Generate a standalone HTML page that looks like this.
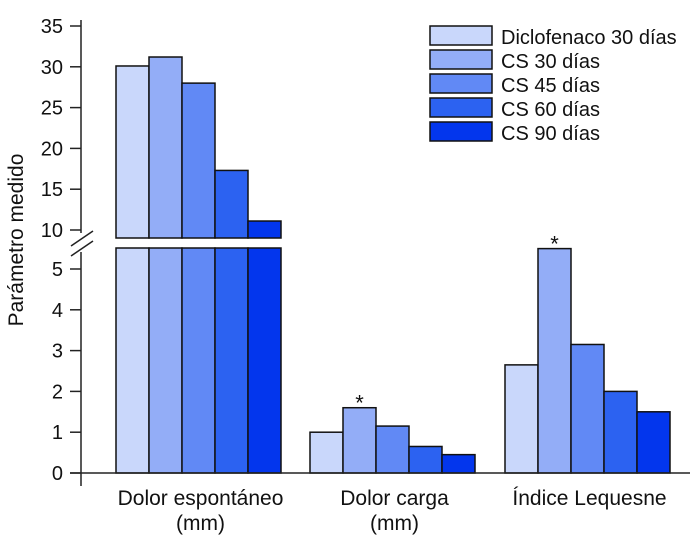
<!DOCTYPE html>
<html><head><meta charset="utf-8"><style>
html,body{margin:0;padding:0;background:#fff;}
svg{display:block;font-family:"Liberation Sans",sans-serif;}
</style></head><body>
<svg id="chart" width="700" height="541" viewBox="0 0 700 541"></svg>
<script>
const categories = ["Dolor espontáneo|(mm)", "Dolor carga|(mm)", "Índice Lequesne"];
const seriesNames = ["Diclofenaco 30 días", "CS 30 días", "CS 45 días", "CS 60 días", "CS 90 días"];
const diclofenaco30 = [30.1, 1.0, 2.65];
const cs30 = [31.2, 1.6, 5.5];
const cs45 = [28.0, 1.15, 3.15];
const cs60 = [17.3, 0.65, 2.0];
const cs90 = [11.1, 0.45, 1.5];
const lowerTicks = [0, 1, 2, 3, 4, 5];
const upperTicks = [10, 15, 20, 25, 30, 35];
const starred = [[1, 1], [2, 1]]; // [category, series]

const series = [diclofenaco30, cs30, cs45, cs60, cs90];
const colors = ["#c9d7fb", "#93adf7", "#6189f5", "#2c62f1", "#0336ed"];
const NS = "http://www.w3.org/2000/svg";
const svg = document.getElementById("chart");
function mk(tag, attrs, parent) {
  const e = document.createElementNS(NS, tag);
  for (const k in attrs) e.setAttribute(k, attrs[k]);
  (parent || svg).appendChild(e);
  return e;
}
const lowY = v => 473 - v * 40.8;
const upY = v => 230 - (v - 10) * 8.16;
const lowTop = 248, upBottom = 238;
const groupX = [116, 310, 505], barW = 33;

series.forEach((vals, s) => {
  vals.forEach((v, c) => {
    const x = groupX[c] + s * barW;
    if (v > 10) {
      const r1 = mk("rect", {x: x, y: lowTop, width: barW, height: 473 - lowTop, fill: colors[s], stroke: "#111", "stroke-width": 1.5});
      
      
      const r2 = mk("rect", {x: x, y: upY(v), width: barW, height: upBottom - upY(v), fill: colors[s], stroke: "#111", "stroke-width": 1.5});
      
      
    } else {
      const r = mk("rect", {x: x, y: lowY(v), width: barW, height: 473 - lowY(v), fill: colors[s], stroke: "#111", "stroke-width": 1.5});
      
      
    }
  });
});
starred.forEach(([c, s]) => {
  const v = series[s][c];
  const t = mk("text", {x: groupX[c] + s * barW + barW / 2, y: lowY(v) + 3, "font-size": 22, "text-anchor": "middle", fill: "#111"});
  t.textContent = "*";
  
  
});

const ax = mk("g", {stroke: "#222", "stroke-width": 1.5});


mk("line", {x1: 81, y1: 20, x2: 81, y2: 233}, ax);
mk("line", {x1: 81, y1: 252, x2: 81, y2: 486}, ax);
mk("line", {x1: 70, y1: 473, x2: 690, y2: 473}, ax);
mk("line", {x1: 71, y1: 246, x2: 93, y2: 231}, ax);
mk("line", {x1: 71, y1: 256, x2: 93, y2: 241}, ax);
lowerTicks.forEach(v => {
  mk("line", {x1: 70, y1: lowY(v), x2: 81, y2: lowY(v)}, ax);
  const t = mk("text", {x: 63, y: lowY(v) + 7, "font-size": 20, "text-anchor": "end", fill: "#111", stroke: "none"});
  t.textContent = v;
  
  
});
upperTicks.forEach(v => {
  mk("line", {x1: 70, y1: upY(v), x2: 81, y2: upY(v)}, ax);
  const t = mk("text", {x: 63, y: upY(v) + 7, "font-size": 20, "text-anchor": "end", fill: "#111", stroke: "none"});
  t.textContent = v;
  
  
});
const yt = mk("text", {x: 23, y: 240, "font-size": 21, "text-anchor": "middle", fill: "#111", transform: "rotate(-90 23 240)"});
yt.textContent = "Parámetro medido";



categories.forEach((c, i) => {
  const lines = c.split("|");
  lines.forEach((ln, j) => {
    const t = mk("text", {x: groupX[i] + barW * 2.5 + 2, y: 505 + j * 25, "font-size": 21, "text-anchor": "middle", fill: "#111"});
    t.textContent = ln;
    
    
  });
});

const lg = mk("g", {});


seriesNames.forEach((n, i) => {
  const y = 26 + i * 24;
  const r = mk("rect", {x: 430, y: y, width: 62, height: 19, fill: colors[i], stroke: "#111", "stroke-width": 1.5}, lg);
  
  
  const t = mk("text", {x: 501, y: y + 18, "font-size": 20, fill: "#111"}, lg);
  t.textContent = n;
  
  
});
</script>
</body></html>
